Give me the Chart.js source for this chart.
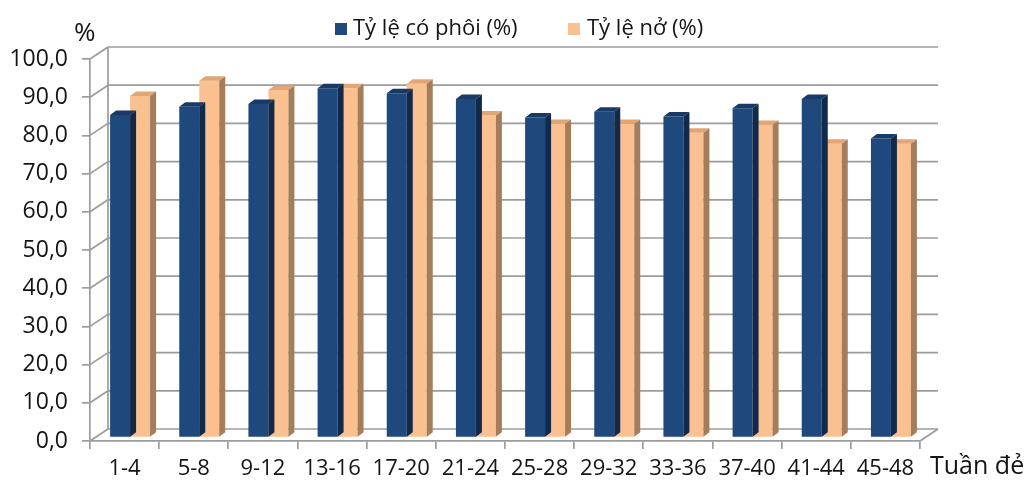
<!DOCTYPE html>
<html>
<head>
<meta charset="utf-8">
<script src="https://cdn.jsdelivr.net/npm/chart.js@4.4.1/dist/chart.umd.min.js"></script>
<style>
  html, body { margin: 0; padding: 0; background: #fff; }
  #khung { width: 1030px; height: 483px; }
</style>
</head>
<body>
<div id="khung"><canvas id="bieudo"></canvas></div>
<script>
// Tuần đẻ và hai tỷ lệ theo từng giai đoạn
const tuanDe = ['1-4', '5-8', '9-12', '13-16', '17-20', '21-24', '25-28', '29-32', '33-36', '37-40', '41-44', '45-48'];
const tyLeCoPhoi = [84.4, 86.6, 87.3, 91.4, 90.1, 88.6, 83.8, 85.3, 84.0, 86.2, 88.6, 78.3];
const tyLeNo = [89.4, 93.4, 91.0, 91.4, 92.6, 84.3, 82.1, 82.1, 79.8, 81.8, 76.9, 76.9];
const mocTrucY = [0, 10, 20, 30, 40, 50, 60, 70, 80, 90, 100];

// màu mặt trước / mặt trên / mặt bên của cột
const mauPhoi = ['#1f497d', '#183a66', '#11294a'];
const mauNo = ['#fac090', '#e2a675', '#a57d5a'];

const FONT = '"Open Sans", "Liberation Sans", sans-serif';
const MAU_LUOI = '#9c9c9c';
const MAU_CHU = '#141414';

// độ sâu của tường sau và của cột
const SAU = { dx: 18, dy: -12 };
const COT = { ox: 5.5, oy: -3.5, dx: 6, dy: -4.5 };

const dinhDang = v => v.toFixed(1).replace('.', ',');

const line = (ctx, x1, y1, x2, y2) => {
  ctx.beginPath();
  ctx.moveTo(x1, y1);
  ctx.lineTo(x2, y2);
  ctx.stroke();
};

const poly = (ctx, pts, color) => {
  ctx.beginPath();
  ctx.moveTo(pts[0][0], pts[0][1]);
  for (let i = 1; i < pts.length; i++) ctx.lineTo(pts[i][0], pts[i][1]);
  ctx.closePath();
  ctx.fillStyle = color;
  ctx.fill();
};

const khung3d = {
  id: 'khung3d',
  beforeDatasetsDraw(chart) {
    const { ctx, chartArea: a, scales: { y } } = chart;
    ctx.save();
    ctx.strokeStyle = MAU_LUOI;
    ctx.lineWidth = 1.7;
    // tường trái và lưới tường sau
    for (const v of mocTrucY) {
      const py = y.getPixelForValue(v);
      line(ctx, a.left, py, a.left + SAU.dx, py + SAU.dy);
      line(ctx, a.left + SAU.dx, py + SAU.dy, a.right + SAU.dx, py + SAU.dy);
    }
    const y0 = y.getPixelForValue(0);
    const y100 = y.getPixelForValue(100);
    line(ctx, a.left + SAU.dx, y100 + SAU.dy, a.left + SAU.dx, y0 + SAU.dy);
    // cạnh phải của sàn
    line(ctx, a.right, y0, a.right + SAU.dx, y0 + SAU.dy);
    ctx.restore();
  },
  beforeDatasetDraw(chart, args) {
    const { ctx } = chart;
    const mau = chart.data.datasets[args.index].mauMat;
    ctx.save();
    for (const el of args.meta.data) {
      const x0 = el.x - el.width / 2 + COT.ox;
      const x1 = el.x + el.width / 2 + COT.ox;
      const yt = el.y + COT.oy;
      const yb = el.base + COT.oy;
      poly(ctx, [[x0, yt], [x1, yt], [x1, yb], [x0, yb]], mau[0]);
      poly(ctx, [[x0, yt], [x1, yt], [x1 + COT.dx, yt + COT.dy], [x0 + COT.dx, yt + COT.dy]], mau[1]);
      poly(ctx, [[x1, yt], [x1 + COT.dx, yt + COT.dy], [x1 + COT.dx, yb + COT.dy], [x1, yb]], mau[2]);
    }
    ctx.restore();
    return false;
  },
  afterDraw(chart) {
    const { ctx } = chart;
    ctx.save();
    ctx.textBaseline = 'middle';
    ctx.textAlign = 'left';
    // chú giải
    ctx.font = '22px ' + FONT;
    const viTri = [[335, 353], [568, 587]];
    chart.data.datasets.forEach((ds, i) => {
      ctx.fillStyle = ds.mauMat[0];
      ctx.fillRect(viTri[i][0], 23, 12, 12);
      ctx.fillStyle = MAU_CHU;
      ctx.fillText(ds.label, viTri[i][1], 29);
    });
    ctx.font = '26px ' + FONT;
    ctx.fillText('%', 74, 34);
    ctx.font = '25px ' + FONT;
    ctx.fillText('Tuần đẻ', 930, 467);
    ctx.restore();
  }
};

const chart = new Chart(document.getElementById('bieudo'), {
  type: 'bar',
  data: {
    labels: tuanDe,
    datasets: [
      { label: 'Tỷ lệ có phôi (%)', data: tyLeCoPhoi, backgroundColor: mauPhoi[0], mauMat: mauPhoi },
      { label: 'Tỷ lệ nở (%)', data: tyLeNo, backgroundColor: mauNo[0], mauMat: mauNo }
    ]
  },
  options: {
    responsive: true,
    maintainAspectRatio: false,
    animation: false,
    barPercentage: 1,
    categoryPercentage: 0.578,
    layout: { padding: { top: 59, right: 110, left: 0, bottom: 0 } },
    plugins: { legend: { display: false }, tooltip: { enabled: false } },
    scales: {
      x: {
        grid: { offset: true, drawOnChartArea: false, tickLength: 8, color: MAU_LUOI, lineWidth: 1.7 },
        border: { color: MAU_LUOI, width: 1.7 },
        ticks: { color: MAU_CHU, font: { family: FONT, size: 22 }, padding: 7, maxRotation: 0, autoSkip: false },
        afterFit: s => { s.height = 42; }
      },
      y: {
        min: 0,
        max: 100,
        ticks: { stepSize: 10, color: MAU_CHU, font: { family: FONT, size: 23 }, padding: 14, callback: v => dinhDang(v) },
        grid: { drawOnChartArea: false, tickLength: 8, color: MAU_LUOI, lineWidth: 1.7 },
        border: { color: MAU_LUOI, width: 1.7 },
        afterFit: s => { s.width = 90; }
      }
    }
  },
  plugins: [khung3d]
});
</script>
</body>
</html>
